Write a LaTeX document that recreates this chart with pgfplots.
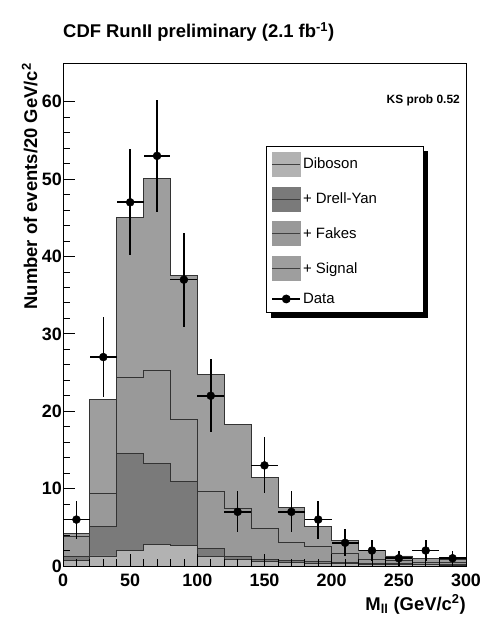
\documentclass[border=0pt]{standalone}
\usepackage{pgfplots}
\pgfplotsset{compat=1.18}
\usepackage{pgfplotstable}
\usepackage{fontspec}
\setmainfont{Liberation Sans}

\pgfplotstableread{
x   dib  dy   fak  sig
0   0.7  1.2  3.8  4.2
20  1.3  5.1  9.4  21.5
40  2.0  14.6 24.4 45.0
60  2.8  13.2 25.3 50.1
80  2.6  10.9 18.9 37.6
100 1.2  2.3  9.6  24.7
120 0.8  1.2  7.4  18.3
140 0.6  0.8  4.8  11.4
160 0.5  0.7  3.0  7.6
180 0.4  0.6  2.5  5.15
200 0.3  0.5  1.6  3.3
220 0.2  0.35 0.8  2.0
240 0.2  0.3  0.7  1.3
260 0.15 0.25 0.45 0.95
280 0.1  0.2  0.5  0.9
300 0.1  0.2  0.5  0.9
}\stack

\pgfplotstableread{
x   y  ey
10  6  2.45
30  27 5.20
50  47 6.86
70  53 7.28
90  37 6.08
110 22 4.69
130 7  2.65
150 13 3.61
170 7  2.65
190 6  2.45
210 3  1.73
230 2  1.41
250 1  1.00
270 2  1.41
290 1  1.00
}\data

\definecolor{cdib}{gray}{0.70}
\definecolor{cdy}{gray}{0.48}
\definecolor{cfak}{gray}{0.60}
\definecolor{csig}{gray}{0.62}

\begin{document}
\begin{tikzpicture}
\useasboundingbox (0,0) rectangle (483bp,618bp);
\begin{axis}[
  at={(63bp,52bp)}, anchor=south west,
  width=403bp, height=503bp, scale only axis,
  xmin=0, xmax=300, ymin=0, ymax=65,
  xtick={0,50,...,300}, ytick={0,10,...,60},
  minor x tick num=4, minor y tick num=4,
  tick align=inside, tick pos=left,
  major tick length=12bp, minor tick length=7bp,
  every tick/.style={black, line width=0.8bp},
  axis line style={black, line width=0.8bp},
  axis on top,
  /pgf/number format/assume math mode=true,
  ticklabel style={font=\bfseries\fontsize{18}{18}\selectfont},
  yticklabel style={inner xsep=1bp},
  xticklabel style={yshift=-4bp},
  legend cell align=left,
  legend style={name=leg, at={(0.504,0.835)}, anchor=north west, draw=black, line width=0.8bp,
    fill=white, font=\fontsize{15}{15}\selectfont, row sep=10bp,
    inner xsep=5bp, inner ysep=5.5bp},
]
\addlegendimage{legend image code/.code={\fill[cdib] (0bp,-12bp) rectangle (28bp,12bp); \draw[black!75, line width=0.8bp] (0bp,0bp) -- (28bp,0bp);}}
\addlegendentry{\makebox[113bp][l]{Diboson}}
\addlegendimage{legend image code/.code={\fill[cdy] (0bp,-12bp) rectangle (28bp,12bp); \draw[black!75, line width=0.8bp] (0bp,0bp) -- (28bp,0bp);}}
\addlegendentry{+ Drell-Yan}
\addlegendimage{legend image code/.code={\fill[cfak] (0bp,-12bp) rectangle (28bp,12bp); \draw[black!75, line width=0.8bp] (0bp,0bp) -- (28bp,0bp);}}
\addlegendentry{+ Fakes}
\addlegendimage{legend image code/.code={\fill[csig] (0bp,-12bp) rectangle (28bp,12bp); \draw[black!75, line width=0.8bp] (0bp,0bp) -- (28bp,0bp);}}
\addlegendentry{+ Signal}
\addlegendimage{legend image code/.code={\draw[black, line width=1.5bp] (0bp,0bp) -- (28bp,0bp); \fill[black] (14bp,0bp) circle (4bp);}}
\addlegendentry{Data}

\addplot[const plot, fill=csig, draw=black!80, line width=0.8bp, forget plot] table[x=x,y=sig]{\stack} \closedcycle;
\addplot[const plot, fill=cfak, draw=black!80, line width=0.8bp, forget plot] table[x=x,y=fak]{\stack} \closedcycle;
\addplot[const plot, fill=cdy, draw=black!80, line width=0.8bp, forget plot] table[x=x,y=dy]{\stack} \closedcycle;
\addplot[const plot, fill=cdib, draw=black!80, line width=0.8bp, forget plot] table[x=x,y=dib]{\stack} \closedcycle;

\addplot[only marks, mark=*, mark size=4bp, black, forget plot,
  error bars/.cd, x dir=both, x fixed=10, y dir=both, y explicit,
  error mark=none, error bar style={line width=1.6bp, black}]
  table[x=x, y=y, y error=ey]{\data};
\end{axis}
\fill[black] ([yshift=-5bp]leg.north east) rectangle ([xshift=5bp,yshift=-5bp]leg.south east);
\fill[black] ([xshift=5bp]leg.south west) rectangle ([xshift=5bp,yshift=-5bp]leg.south east);
\node[anchor=base west, font=\bfseries\fontsize{18.5}{18.5}\selectfont, inner sep=0] at (63bp,580bp) {CDF RunII preliminary (2.1 fb\textsuperscript{-1})};
\node[anchor=base east, font=\bfseries\fontsize{12}{12}\selectfont, inner sep=0] at (460bp,514bp) {KS prob 0.52};
\node[rotate=90, anchor=base east, font=\bfseries\fontsize{18.5}{18.5}\selectfont, inner sep=0] at (37bp,555bp) {Number of events/20 GeV/c\textsuperscript{2}};
\node[anchor=base east, font=\bfseries\fontsize{18.5}{18.5}\selectfont, inner sep=0] at (466bp,8bp) {M\textsubscript{ll} (GeV/c\textsuperscript{2})};
\end{tikzpicture}
\end{document}
